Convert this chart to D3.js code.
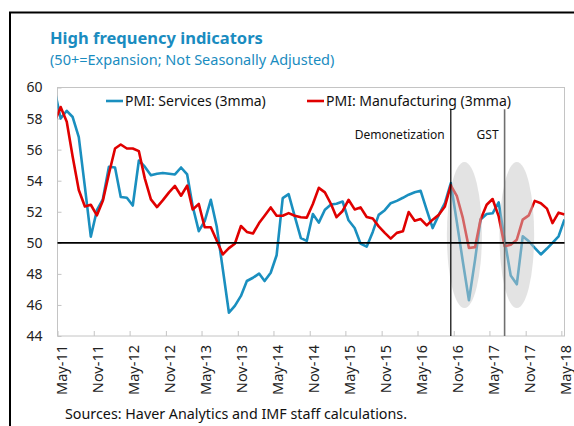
<!DOCTYPE html>
<html>
<head>
<meta charset="utf-8">
<script src="https://cdn.jsdelivr.net/npm/d3@7"></script>
<style>
body { margin: 0; background: #fff; }
svg { display: block; font-family: "Noto Sans", "Open Sans", sans-serif; }
</style>
</head>
<body>
<svg width="574" height="426"></svg>
<script>
// monthly values, Apr-11 .. May-18 (3 month moving average)
const firstMonth = "Apr-11"
const lastMonth = "May-18"
const services = [59.8,
  58.0, 58.5, 58.1, 56.8, 53.6, 50.4, 52.1, 52.8, 54.9, 54.85, 52.95, 52.9,
  52.4, 55.3, 54.9, 54.35, 54.45, 54.5, 54.45, 54.4, 54.85, 54.4, 52.35, 50.75,
  51.4, 52.77, 51.05, 48.3, 45.5, 45.94, 46.58, 47.54, 47.75, 48.02, 47.54, 48.07,
  49.2, 52.88, 53.13, 51.7, 50.3, 50.12, 51.85, 51.3, 52.13, 52.47, 52.52, 52.66,
  51.45, 50.95, 49.95, 49.75, 50.7, 51.8, 52.1, 52.55, 52.7, 52.9, 53.1, 53.25,
  53.35, 52.1, 50.95, 51.8, 52.55, 53.85, 51.3, 48.8, 46.3, 48.9, 51.5, 51.85,
  51.9, 52.6, 50.2, 47.9, 47.33, 50.42, 50.1, 49.67, 49.25, 49.63, 50.0, 50.42,
  51.5]
const manufacturing = [57.8,
  58.74, 57.8, 55.54, 53.4, 52.34, 52.45, 51.77, 52.7, 54.45, 56.07, 56.33, 56.07,
  56.07, 55.9, 54.15, 52.8, 52.3, 52.75, 53.25, 53.66, 53.03, 53.68, 52.15, 52.5,
  51.0, 51.0, 50.15, 49.25, 49.66, 49.94, 51.08, 50.7, 50.6, 51.27, 51.74, 52.28,
  51.74, 51.74, 51.91, 51.74, 51.65, 51.62, 52.5, 53.54, 53.25, 52.5, 51.65, 52.05,
  52.77, 52.15, 52.28, 51.66, 51.56, 51.06, 50.64, 50.27, 50.64, 50.74, 51.98, 51.42,
  51.53, 51.12, 51.49, 51.8, 52.34, 53.7, 53.0, 51.6, 49.67, 49.72, 51.5, 52.45,
  52.82, 51.7, 49.78, 49.87, 50.2, 51.49, 51.77, 52.7, 52.55, 52.2, 51.27, 51.94,
  51.83]
const seriesNames = ["PMI: Services (3mma)", "PMI: Manufacturing (3mma)"]
const seriesColors = ["#1a8fbf", "#e00000"]

const tickLabels = ["May-11", "Nov-11", "May-12", "Nov-12", "May-13", "Nov-13", "May-14",
  "Nov-14", "May-15", "Nov-15", "May-16", "Nov-16", "May-17", "Nov-17", "May-18"]
const yTicks = [44, 46, 48, 50, 52, 54, 56, 58, 60]
const refValue = 50

const eventNames = ["Demonetization", "GST"]
const eventMonths = ["Oct-16", "Jul-17"]
const eventColors = ["#000", "#6f6f6f"]

// grey ellipses round the two shocks
const highlightFrom = ["2016-09-27", "2017-06-21"]
const highlightTo = ["2017-03-24", "2017-12-14"]
const highlightLow = 45.8
const highlightHigh = 55.2

const parseMonth = d3.timeParse("%b-%y")
const parseDay = d3.timeParse("%Y-%m-%d")
// monthly points sit in the middle of the month
const months = d3.timeMonth.range(parseMonth(firstMonth), d3.timeMonth.offset(parseMonth(lastMonth), 1))
  .map(d => d3.timeDay.offset(d, 16))

let svg = d3.select("svg")

let plotLeft = 57.5, plotRight = 564.5, plotTop = 87.5, plotBottom = 336

let x = d3.scaleTime()
  .domain([parseMonth(tickLabels[0]), months[months.length - 1]])
  .range([plotLeft, plotRight])

let y = d3.scaleLinear()
  .domain([44, 60])
  .range([plotBottom, plotTop])

// outer frame
svg.append("path")
  .attr("d", "M10,426V12.5H574")
  .style("fill", "none")
  .style("stroke", "#000")
  .style("stroke-width", 2)

svg.append("text")
  .attr("x", 50)
  .attr("y", 44)
  .text("High frequency indicators")
  .style("font-size", "16.5px")
  .style("font-weight", "bold")
  .style("fill", "#1a8cc0")

svg.append("text")
  .attr("x", 50)
  .attr("y", 65)
  .text("(50+=Expansion; Not Seasonally Adjusted)")
  .style("font-size", "14.5px")
  .style("fill", "#1a8cc0")

svg.append("defs").append("clipPath")
  .attr("id", "plot-clip")
  .append("rect")
  .attr("x", plotLeft)
  .attr("y", plotTop)
  .attr("width", plotRight - plotLeft)
  .attr("height", plotBottom - plotTop)

// plot area border
svg.append("rect")
  .attr("x", plotLeft)
  .attr("y", plotTop)
  .attr("width", plotRight - plotLeft)
  .attr("height", plotBottom - plotTop)
  .style("fill", "none")
  .style("stroke", "#c4c4c4")
  .style("stroke-width", 1)

let xAxis = svg.append("g")
  .attr("transform", "translate(0," + plotBottom + ")")
  .call(d3.axisBottom(x)
    .tickValues(tickLabels.map(parseMonth))
    .tickSize(-5)
    .tickSizeOuter(0)
    .tickFormat((d, i) => tickLabels[i]))

xAxis.select(".domain").remove()
xAxis.selectAll("line").style("stroke", "#c4c4c4")
xAxis.selectAll("text")
  .attr("transform", "rotate(-90)")
  .attr("text-anchor", "end")
  .attr("x", -9)
  .attr("y", 4)
  .attr("dy", "0.35em")
  .style("font-size", "14.5px")
  .style("font-family", "Noto Sans")
  .style("fill", "#222")

let yAxis = svg.append("g")
  .attr("transform", "translate(" + plotLeft + ",0)")
  .call(d3.axisLeft(y)
    .tickValues(yTicks)
    .tickSize(-4)
    .tickSizeOuter(0)
    .tickPadding(15))

yAxis.select(".domain").remove()
yAxis.selectAll("line").style("stroke", "#c4c4c4")
yAxis.selectAll("text")
  .style("font-size", "14px")
  .style("font-family", "Noto Sans")
  .style("fill", "#222")

let line = d3.line()
  .x((d, i) => x(months[i]))
  .y(d => y(d))

svg.append("g")
  .attr("clip-path", "url(#plot-clip)")
  .selectAll(".series")
  .data([services, manufacturing])
  .join("path")
  .attr("class", "series")
  .attr("d", line)
  .style("fill", "none")
  .style("stroke", (d, i) => seriesColors[i])
  .style("stroke-width", 2.6)
  .style("stroke-linejoin", "round")

svg.selectAll(".highlight")
  .data(highlightFrom)
  .join("ellipse")
  .attr("class", "highlight")
  .attr("cx", (d, i) => (x(parseDay(d)) + x(parseDay(highlightTo[i]))) / 2)
  .attr("cy", (y(highlightLow) + y(highlightHigh)) / 2)
  .attr("rx", (d, i) => (x(parseDay(highlightTo[i])) - x(parseDay(d))) / 2)
  .attr("ry", (y(highlightLow) - y(highlightHigh)) / 2)
  .style("fill", "#c8c8c8")
  .style("fill-opacity", 0.5)

svg.append("line")
  .attr("x1", plotLeft)
  .attr("x2", plotRight)
  .attr("y1", y(refValue))
  .attr("y2", y(refValue))
  .style("stroke", "#000")
  .style("stroke-width", 1.8)

let eventX = eventMonths.map(m => x(d3.timeDay.offset(parseMonth(m), 16)))

svg.selectAll(".event-line")
  .data(eventNames)
  .join("line")
  .attr("class", "event-line")
  .attr("x1", (d, i) => eventX[i])
  .attr("x2", (d, i) => eventX[i])
  .attr("y1", y(58.6))
  .attr("y2", plotBottom)
  .style("stroke", (d, i) => eventColors[i])
  .style("stroke-width", (d, i) => i == 0 ? 1.2 : 1.6)

svg.selectAll(".event-label")
  .data(eventNames)
  .join("text")
  .attr("class", "event-label")
  .attr("x", (d, i) => eventX[i] - 6)
  .attr("y", y(58.6) + 30)
  .attr("text-anchor", "end")
  .text(d => d)
  .style("font-size", "12px")
  .style("fill", "#111")

// legend
let legend = svg.selectAll(".legend")
  .data(seriesNames)
  .join("g")
  .attr("class", "legend")
  .attr("transform", (d, i) => "translate(" + [106, 307][i] + ",101)")

legend.append("line")
  .attr("x1", 0)
  .attr("x2", 17)
  .style("stroke", (d, i) => seriesColors[i])
  .style("stroke-width", 2.6)

legend.append("text")
  .attr("x", 19)
  .attr("dy", "0.35em")
  .text(d => d)
  .style("font-size", "14px")
  .style("fill", "#111")

svg.append("text")
  .attr("x", 65)
  .attr("y", 419)
  .text("Sources: Haver Analytics and IMF staff calculations.")
  .style("font-size", "14.3px")
  .style("fill", "#111")
</script>
</body>
</html>
